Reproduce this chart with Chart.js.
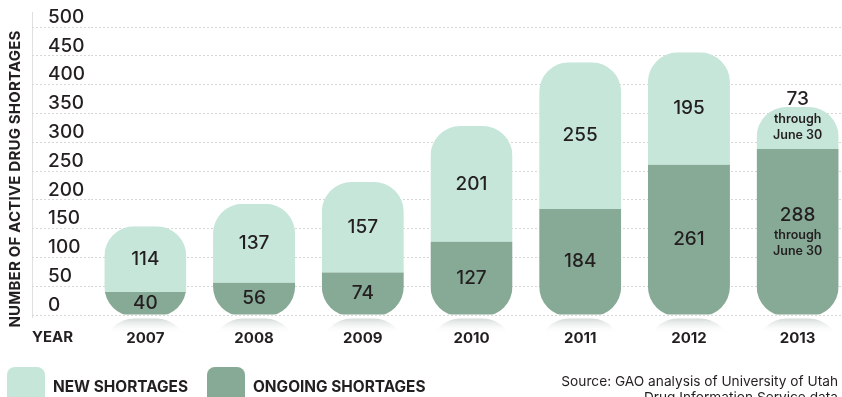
<!DOCTYPE html>
<html>
<head>
<meta charset="utf-8">
<script src="https://cdn.jsdelivr.net/npm/chart.js@4.4.0/dist/chart.umd.min.js"></script>
<style>
    html, body { margin: 0; padding: 0; background: #fff; width: 842px; height: 397px; overflow: hidden; }
    #wrap { position: absolute; left: 0; top: 0; width: 852px; height: 397px; }
    .key { position: absolute; top: 367px; width: 38px; height: 40px; border-radius: 8px; }
    .keyText { position: absolute; top: 378px; font: 700 15.4px Inter, sans-serif; line-height: 18px; color: #231f20; white-space: nowrap; }
    #source { position: absolute; right: 4px; top: 373px; font: 400 13.7px Inter, sans-serif; line-height: 16px; color: #231f20; text-align: right; white-space: nowrap; }
</style>
</head>
<body>
<div id="wrap"><canvas id="chart"></canvas></div>
<div class="key" style="left:7px; background:#c6e6da"></div>
<div class="keyText" style="left:53px">NEW SHORTAGES</div>
<div class="key" style="left:207px; background:#87aa97"></div>
<div class="keyText" style="left:253px">ONGOING SHORTAGES</div>
<div id="source">Source: GAO analysis of University of Utah<br>Drug Information Service data</div>
<script>
const years = ['2007', '2008', '2009', '2010', '2011', '2012', '2013'];
const ongoingShortages = [40, 56, 74, 127, 184, 261, 288];
const newShortages = [114, 137, 157, 201, 255, 195, 73];
const valueNotes = ['', '', '', '', '', '', 'through|June 30'];
const yMin = 0;
const yMax = 500;
const yStep = 50;

const LIGHT = '#c6e6da';
const DARK = '#87aa97';
const INK = '#231f20';

// new shortages sit on top of the ongoing ones as floating bars
const newRanges = years.map((y, i) => [ongoingShortages[i], ongoingShortages[i] + newShortages[i]]);

function drawLabel(ctx, x, top, bottom, value, note) {
    const center = (top + bottom) / 2;
    ctx.fillStyle = INK;
    ctx.textAlign = 'center';
    ctx.textBaseline = 'middle';
    if (!note) {
        ctx.font = '500 19px Inter';
        ctx.fillText(value, x, center);
        return;
    }
    const lines = note.split('|');
    const blockH = 22 + lines.length * 16;
    let start = center - blockH / 2;
    if (bottom - top < blockH + 10) start = bottom - 6 - blockH;
    ctx.font = '500 19px Inter';
    ctx.fillText(value, x, start + 10);
    ctx.font = '600 12.5px Inter';
    lines.forEach((line, k) => ctx.fillText(line, x, start + 30 + k * 16));
}

const pillPlugin = {
    id: 'pill',
    beforeDraw(chart) {
        const ctx = chart.ctx;
        const area = chart.chartArea;
        ctx.save();
        ctx.strokeStyle = '#e0e0e0';
        ctx.lineWidth = 1;
        ctx.beginPath();
        ctx.moveTo(32.5, area.top - 15);
        ctx.lineTo(32.5, area.bottom + 3);
        ctx.stroke();

        // axis title
        ctx.translate(15, (area.top + area.bottom) / 2 + 8);
        ctx.rotate(-Math.PI / 2);
        ctx.fillStyle = INK;
        ctx.font = '700 15px Inter';
        ctx.letterSpacing = '0.2px';
        ctx.textAlign = 'center';
        ctx.textBaseline = 'middle';
        ctx.fillText('NUMBER OF ACTIVE DRUG SHORTAGES', 0, 0);
        ctx.restore();
    },
    beforeDatasetsDraw(chart) {
        const ctx = chart.ctx;
        const lower = chart.getDatasetMeta(0).data;
        const upper = chart.getDatasetMeta(1).data;

        // y tick labels, left aligned and sitting just above their grid lines
        const ys = chart.scales.y;
        ctx.save();
        ctx.font = '500 19px Inter';
        ctx.fillStyle = INK;
        ctx.textAlign = 'left';
        ctx.textBaseline = 'middle';
        ys.ticks.forEach((t) => ctx.fillText(String(t.value), 48, ys.getPixelForValue(t.value) - 10));
        ctx.restore();

        ctx.save();
        // soft reflection under every bar
        lower.forEach((bar) => {
            const left = bar.x - bar.width / 2;
            const top = bar.base + 4;
            const g = ctx.createLinearGradient(0, top, 0, top + 15);
            g.addColorStop(0, 'rgba(160,175,167,0.45)');
            g.addColorStop(1, 'rgba(255,255,255,0)');
            ctx.fillStyle = g;
            ctx.beginPath();
            ctx.roundRect(left, top, bar.width, 30, [32, 32, 0, 0]);
            ctx.fill();
        });
        // clip both segments to one pill per year
        ctx.beginPath();
        upper.forEach((bar, i) => {
            const bottom = lower[i].base + 2;
            ctx.roundRect(bar.x - bar.width / 2, bar.y, bar.width, bottom - bar.y, 30);
        });
        ctx.clip();
    },
    afterDatasetsDraw(chart) {
        const ctx = chart.ctx;
        ctx.restore();
        const lower = chart.getDatasetMeta(0).data;
        const upper = chart.getDatasetMeta(1).data;
        ctx.save();
        years.forEach((y, i) => {
            drawLabel(ctx, upper[i].x, upper[i].y, upper[i].base, newShortages[i], valueNotes[i]);
            drawLabel(ctx, lower[i].x, lower[i].y, lower[i].base, ongoingShortages[i], valueNotes[i]);
        });
        // "YEAR" heading in line with the year ticks
        const xs = chart.scales.x;
        ctx.font = '700 15px Inter';
        ctx.textAlign = 'left';
        ctx.textBaseline = 'middle';
        ctx.fillStyle = INK;
        ctx.fillText('YEAR', 32, xs.top + 22);
        ctx.restore();
    }
};

new Chart(document.getElementById('chart'), {
    type: 'bar',
    data: {
        labels: years,
        datasets: [
            {
                label: 'Ongoing shortages',
                data: ongoingShortages,
                backgroundColor: DARK,
                grouped: false,
                categoryPercentage: 1,
                barPercentage: 0.755
            },
            {
                label: 'New shortages',
                data: newRanges,
                backgroundColor: LIGHT,
                grouped: false,
                categoryPercentage: 1,
                barPercentage: 0.755
            }
        ]
    },
    options: {
        responsive: true,
        maintainAspectRatio: false,
        animation: false,
        layout: { padding: { top: 27, left: 48, right: 0, bottom: 0 } },
        plugins: {
            legend: { display: false },
            tooltip: { enabled: false }
        },
        scales: {
            x: {
                grid: { display: false, drawTicks: false },
                border: { display: false },
                ticks: { color: INK, font: { family: 'Inter', size: 15, weight: '700' }, padding: 14 },
                afterFit: (scale) => { scale.height = 82; }
            },
            y: {
                min: yMin,
                max: yMax,
                grid: {
                    color: '#d6d6d6',
                    tickColor: '#d6d6d6',
                    tickLength: 59,
                    tickBorderDash: [2, 2]
                },
                border: { display: false, dash: [2, 2] },
                ticks: { stepSize: yStep, display: false },
                afterFit: (scale) => { scale.width = 43; }
            }
        }
    },
    plugins: [pillPlugin]
});
</script>
</body>
</html>
